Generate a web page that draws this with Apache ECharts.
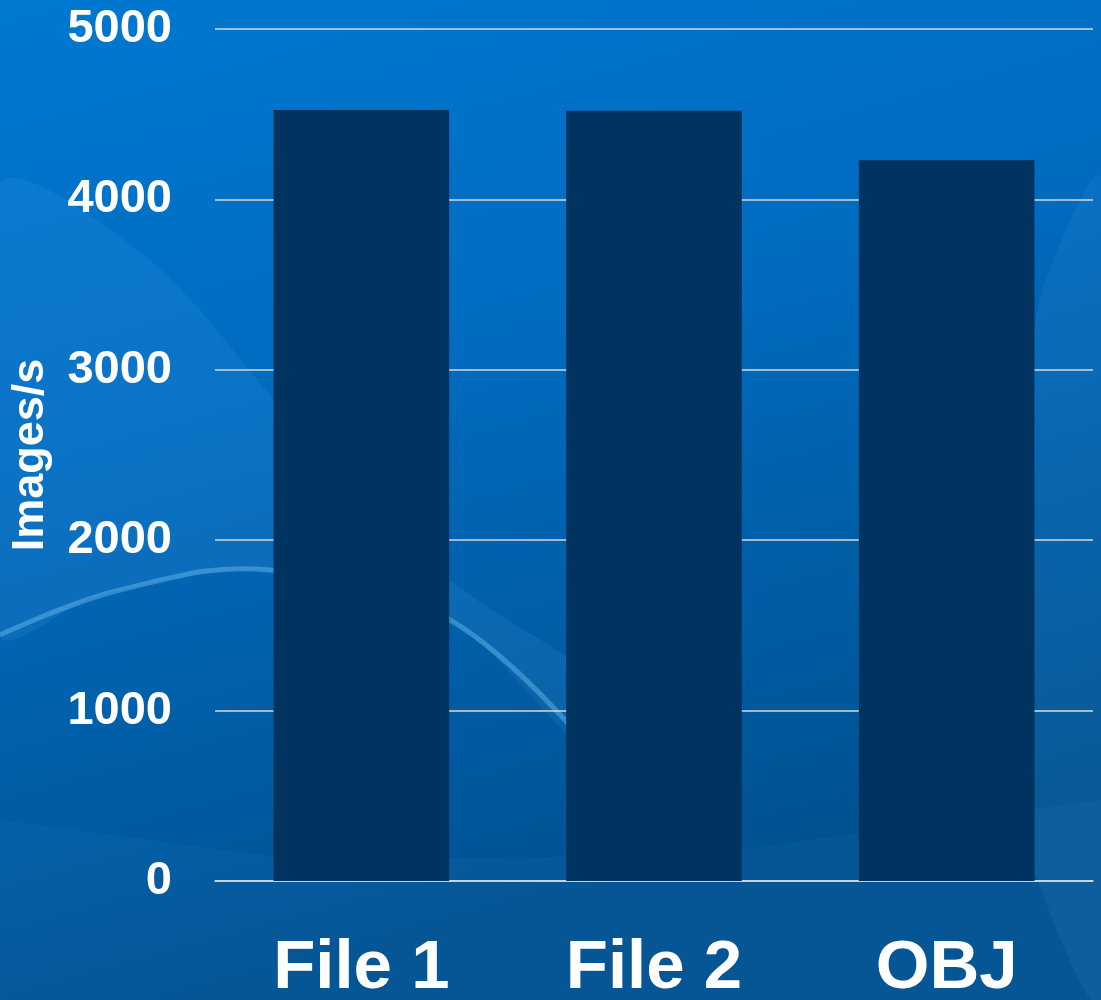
<!DOCTYPE html>
<html>
<head>
<meta charset="utf-8">
<script src="https://cdn.jsdelivr.net/npm/echarts@6/dist/echarts.min.js"></script>
<style>
html,body{margin:0;padding:0;}
#chart{width:1101px;height:1000px;}
</style>
</head>
<body>
<div id="chart"></div>
<script>
const categories = ['File 1', 'File 2', 'OBJ'];
const imagesPerSecond = [4525, 4520, 4230];
const yTicks = [0, 1000, 2000, 3000, 4000, 5000];

const FONT = 'Liberation Sans, Arial, sans-serif';
const chart = echarts.init(document.getElementById('chart'));
chart.setOption({
  animation: false,
  backgroundColor: {
    type: 'linear', x: 0, y: 0, x2: 0.25, y2: 1,
    colorStops: [
      { offset: 0, color: '#0078d0' },
      { offset: 0.45, color: '#006bbf' },
      { offset: 1, color: '#00518f' }
    ]
  },
  graphic: [
    {
      type: 'polygon', z: -5, silent: true,
      shape: {
        points: [[0, 185], [150, 260], [300, 430], [450, 580], [620, 700], [600, 760], [450, 620], [270, 570], [100, 595], [0, 635]],
        smooth: 0.3
      },
      style: { fill: 'rgba(110,185,255,0.10)' }
    },
    {
      type: 'polyline', z: -5, silent: true,
      shape: {
        points: [[0, 635], [120, 590], [270, 570], [450, 620], [600, 760]],
        smooth: 0.4
      },
      style: { fill: null, stroke: 'rgba(140,215,255,0.35)', lineWidth: 5 }
    },
    {
      type: 'polygon', z: -5, silent: true,
      shape: {
        points: [[1101, 180], [1040, 300], [1010, 560], [1020, 820], [1101, 1000]],
        smooth: 0.3
      },
      style: { fill: 'rgba(110,185,255,0.08)' }
    },
    {
      type: 'polygon', z: -5, silent: true,
      shape: {
        points: [[0, 820], [300, 860], [700, 855], [1101, 800], [1101, 1000], [0, 1000]]
      },
      style: { fill: 'rgba(110,185,255,0.05)' }
    }
  ],
  grid: { left: 215, right: 8, top: 29, bottom: 119, containLabel: false, outerBoundsMode: 'none' },
  xAxis: {
    type: 'category',
    data: categories,
    axisLine: { show: true, lineStyle: { color: '#d9d9d9', width: 1.5 } },
    axisTick: { show: false },
    axisLabel: {
      color: '#ffffff', fontSize: 69, fontWeight: 'bold',
      fontFamily: FONT, margin: 53
    }
  },
  yAxis: {
    type: 'value',
    min: yTicks[0], max: yTicks[yTicks.length - 1], interval: 1000,
    name: 'Images/s',
    nameLocation: 'middle',
    nameGap: 162,
    nameTextStyle: {
      color: '#ffffff', fontSize: 45, fontWeight: 'bold', fontFamily: FONT
    },
    axisLine: { show: false },
    axisTick: { show: false },
    splitLine: { lineStyle: { color: '#d9d9d9', width: 1.5 } },
    axisLabel: {
      color: '#ffffff', fontSize: 47, fontWeight: 'bold',
      fontFamily: FONT, margin: 43,
      formatter: function (v) { return String(v); }
    }
  },
  series: [{
    type: 'bar',
    data: imagesPerSecond,
    barWidth: '60%',
    itemStyle: { color: '#00335f' }
  }]
});
</script>
</body>
</html>
